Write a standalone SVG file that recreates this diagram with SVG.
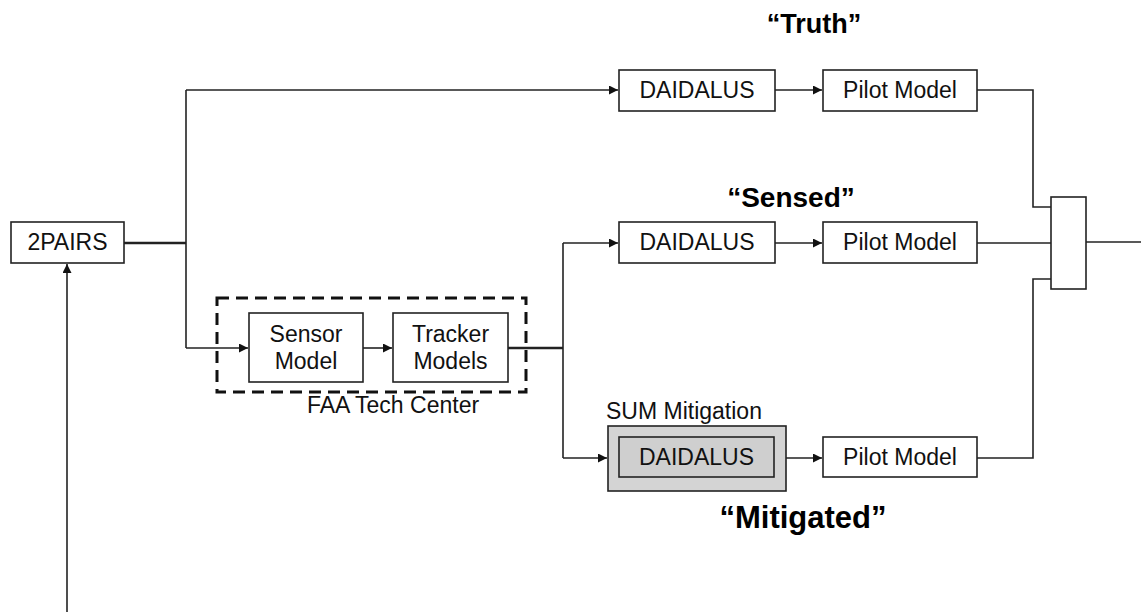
<svg xmlns="http://www.w3.org/2000/svg" width="1141" height="612" viewBox="0 0 1141 612">
<defs>
<style>
.box{fill:#fff;stroke:#222;stroke-width:1.6}
.t{font-family:"Liberation Sans",Arial,sans-serif;font-size:23px;fill:#111;text-anchor:middle}
.h{font-family:"Liberation Sans",Arial,sans-serif;font-weight:bold;fill:#000;text-anchor:middle}
.c{fill:none;stroke:#222;stroke-width:1.6}
.ck{fill:none;stroke:#222;stroke-width:2.6}
</style>
<marker id="ah" viewBox="0 0 10 10" refX="10" refY="5" markerWidth="9" markerHeight="9" markerUnits="userSpaceOnUse" orient="auto">
<path d="M0,0 L10,5 L0,10 z" fill="#111"/>
</marker>
</defs>
<rect width="1141" height="612" fill="#fff"/>

<g id="connectors">
<path class="ck" d="M124,243 H186"/>
<path class="c" d="M186,90 V348"/>
<path class="c" d="M186,90 H618" marker-end="url(#ah)"/>
<path class="c" d="M186,348 H248" marker-end="url(#ah)"/>
<path class="c" d="M363,348 H392" marker-end="url(#ah)"/>
<path class="ck" d="M508,348 H563"/>
<path class="c" d="M563,243 V458"/>
<path class="c" d="M563,243 H618" marker-end="url(#ah)"/>
<path class="c" d="M563,458 H607" marker-end="url(#ah)"/>
<path class="c" d="M775,90 H822" marker-end="url(#ah)"/>
<path class="c" d="M775,243 H822" marker-end="url(#ah)"/>
<path class="c" d="M786,458 H822" marker-end="url(#ah)"/>
<path class="c" d="M977,90 H1033 V207 H1051"/>
<path class="c" d="M977,243 H1051"/>
<path class="c" d="M977,458 H1033 V279 H1051"/>
<path class="c" d="M1086,242 H1141"/>
<path class="c" d="M67,612 V264" marker-end="url(#ah)"/>
</g>

<g id="title-truth"><text class="h" x="814" y="33" font-size="27">“Truth”</text></g>
<g id="title-sensed"><text class="h" x="791" y="207" font-size="28">“Sensed”</text></g>
<g id="title-mitigated"><text class="h" x="803" y="528" font-size="31">“Mitigated”</text></g>

<g id="n-2pairs">
<rect class="box" x="11" y="222" width="113" height="41"/>
<text class="t" x="67.5" y="250">2PAIRS</text>
</g>

<g id="n-faa">
<rect x="217" y="298" width="309" height="94" fill="none" stroke="#111" stroke-width="3" stroke-dasharray="12,7"/>
<text class="t" x="393" y="413">FAA Tech Center</text>
</g>

<g id="n-sensor">
<rect class="box" x="249" y="313" width="114" height="69"/>
<text class="t" x="306" y="342">Sensor</text>
<text class="t" x="306" y="369">Model</text>
</g>

<g id="n-tracker">
<rect class="box" x="393" y="313" width="115" height="69"/>
<text class="t" x="450.5" y="342">Tracker</text>
<text class="t" x="450.5" y="369">Models</text>
</g>

<g id="n-daidalus-truth">
<rect class="box" x="619" y="70" width="156" height="41"/>
<text class="t" x="697" y="98">DAIDALUS</text>
</g>
<g id="n-pilot-truth">
<rect class="box" x="823" y="70" width="154" height="41"/>
<text class="t" x="900" y="98">Pilot Model</text>
</g>

<g id="n-daidalus-sensed">
<rect class="box" x="619" y="222" width="156" height="41"/>
<text class="t" x="697" y="250">DAIDALUS</text>
</g>
<g id="n-pilot-sensed">
<rect class="box" x="823" y="222" width="154" height="41"/>
<text class="t" x="900" y="250">Pilot Model</text>
</g>

<g id="n-sum">
<text class="t" x="606" y="419" style="text-anchor:start">SUM Mitigation</text>
<rect x="608" y="426" width="178" height="65" fill="#d4d4d4" stroke="#222" stroke-width="1.6"/>
</g>
<g id="n-daidalus-mitigated">
<rect x="619" y="437" width="155" height="40" fill="#cfcfcf" stroke="#222" stroke-width="1.6"/>
<text class="t" x="696.5" y="465">DAIDALUS</text>
</g>
<g id="n-pilot-mitigated">
<rect class="box" x="823" y="437" width="154" height="40"/>
<text class="t" x="900" y="465">Pilot Model</text>
</g>

<g id="n-merge">
<rect class="box" x="1051" y="197" width="35" height="92"/>
</g>
</svg>
